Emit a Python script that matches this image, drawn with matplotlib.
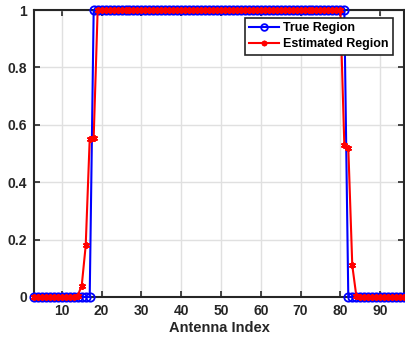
import numpy as np
import matplotlib
matplotlib.use('Agg')
import matplotlib.pyplot as plt

plt.rcParams['font.family'] = ['Liberation Sans', 'DejaVu Sans']
plt.rcParams['font.weight'] = 'bold'

# antenna indices shown on the chart
antenna = np.arange(3, 97)

# true region: 1 between 18 and 81
true_region = np.where((antenna >= 18) & (antenna <= 81), 1.0, 0.0)

# estimated region
est_edges = {14: 0.005, 15: 0.04, 16: 0.18, 17: 0.55, 18: 0.555,
             81: 0.53, 82: 0.52, 83: 0.11, 84: 0.005}
est_region = np.where((antenna >= 19) & (antenna <= 80), 1.0, 0.0)
for k, v in est_edges.items():
    est_region[antenna == k] = v

fig = plt.figure(figsize=(4.06, 3.39), dpi=100)
ax = fig.add_axes([34/406, 1 - 297/339, 370/406, 287/339])

ax.plot(antenna, true_region, '-o', color='blue', lw=1.5, ms=6,
        mfc='none', mew=1.3, label='True Region', clip_on=False, zorder=3)
ax.plot(antenna, est_region, '-', marker=(6, 2, 0), color='red', lw=1.5,
        ms=5, mew=1.3, label='Estimated Region', clip_on=False, zorder=4)

ax.set_xlim(3, 96)
ax.set_ylim(0, 1)
ax.set_xticks(np.arange(10, 91, 10))
ax.set_yticks([0, 0.2, 0.4, 0.6, 0.8, 1])
ax.set_yticklabels(['0', '0.2', '0.4', '0.6', '0.8', '1'])
ax.grid(True, color='#e0e0e0', lw=1)
ax.set_axisbelow(True)
ax.tick_params(direction='in', top=True, right=True, length=4, width=1.2,
               colors='#262626', labelsize=10, labelcolor='#262626', pad=5)
for s in ax.spines.values():
    s.set_linewidth(1.5)
    s.set_color('#262626')
ax.set_xlabel('Antenna Index', fontsize=10.5, fontweight='bold',
              color='#262626', labelpad=2)

leg = ax.legend(loc='upper right', bbox_to_anchor=(0.97, 0.972), fontsize=9,
                frameon=True, fancybox=False, borderpad=0.35, labelspacing=0.3,
                handlelength=2.4, handletextpad=0.3, borderaxespad=0,
                markerscale=0.8)
leg.get_frame().set_edgecolor('#262626')
leg.get_frame().set_linewidth(1.2)
leg.get_frame().set_alpha(1)

fig.savefig('out.png', dpi=100)
